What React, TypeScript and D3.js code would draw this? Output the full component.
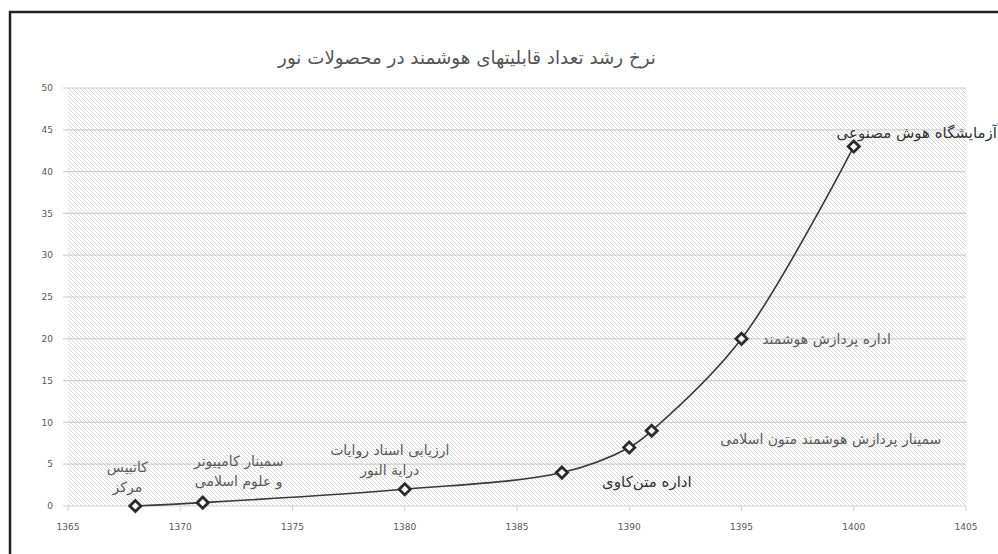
import * as d3 from 'd3'

const years = [1368, 1371, 1380, 1387, 1390, 1391, 1395, 1400]
const values = [0, 0.4, 2, 4, 7, 9, 20, 43]
const xTicks = [1365, 1370, 1375, 1380, 1385, 1390, 1395, 1400, 1405]
const yTicks = [0, 5, 10, 15, 20, 25, 30, 35, 40, 45, 50]

const TITLE = 'نرخ رشد تعداد قابلیتهای هوشمند در محصولات نور'

// label lines per point (index into years/values)
const labelLines: string[][] = [
  ['کاتبیس', 'مرکز'],
  ['سمینار کامپیوتر', 'و علوم اسلامی'],
  ['ارزیابی اسناد روایات', 'درایة النور'],
  ['اداره متن‌کاوی'],
  [],
  ['سمینار پردازش هوشمند متون اسلامی'],
  ['اداره پردازش هوشمند'],
  ['آزمایشگاه هوش مصنوعی'],
]

// label placement, offsets from the point in pixels
const labelLayout = [
  { dx: -8, dy: -34, dark: false },
  { dx: 36, dy: -37, dark: false },
  { dx: -15, dy: -34, dark: false },
  { dx: 85, dy: 14, dark: true },
  { dx: 0, dy: 0, dark: false },
  { dx: 179, dy: 13, dark: false },
  { dx: 85, dy: 5, dark: false },
  { dx: 63, dy: -9, dark: true },
]

const W = 998
const H = 554
const margin = { top: 88, right: 32, bottom: 48, left: 68 }
const FONT = '"DejaVu Sans", sans-serif'

export default function App() {
  const innerW = W - margin.left - margin.right
  const innerH = H - margin.top - margin.bottom

  const x = d3.scaleLinear().domain([1365, 1405]).range([0, innerW])
  const y = d3.scaleLinear().domain([0, 50]).range([innerH, 0])

  const pts: [number, number][] = years.map((yr, i) => [x(yr), y(values[i])])
  const line = d3.line().curve(d3.curveCatmullRom.alpha(0.5))(pts) ?? ''
  const diamond = d3.symbol(d3.symbolDiamond2, 80)() ?? ''

  return (
    <svg
      width={W}
      height={H}
      style={{ position: 'fixed', left: 0, top: 0, background: '#fff' }}
    >
      <defs>
        <pattern id="hatch" patternUnits="userSpaceOnUse" width={4} height={4}>
          <rect width={4} height={4} fill="#fff" />
          <path d="M-1,-1 L5,5 M-1,3 L1,5 M3,-1 L5,1" stroke="#d4d4d4" strokeWidth={0.9} />
        </pattern>
      </defs>

      {/* frame */}
      <rect x={10} y={12} width={1000} height={560} fill="none" stroke="#222" strokeWidth={2.5} />

      <text
        x={467}
        y={64}
        textAnchor="middle"
        fontFamily={FONT}
        fontSize={18.3}
        fill="#555"
      >
        {TITLE}
      </text>

      <g transform={`translate(${margin.left},${margin.top})`}>
        <rect width={innerW} height={innerH} fill="url(#hatch)" />

        {yTicks.map(t => (
          <g key={t}>
            <line x1={-5} x2={innerW} y1={y(t)} y2={y(t)} stroke="#d0d0d0" strokeWidth={1.2} />
            <text
              x={-15}
              y={y(t)}
              dy="0.35em"
              textAnchor="end"
              fontFamily={FONT}
              fontSize={9}
              fill="#595959"
            >
              {t}
            </text>
          </g>
        ))}

        {xTicks.map(t => (
          <g key={t}>
            <line x1={x(t)} x2={x(t)} y1={innerH} y2={innerH + 5} stroke="#d0d0d0" />
            <text
              x={x(t)}
              y={innerH + 24}
              textAnchor="middle"
              fontFamily={FONT}
              fontSize={9}
              fill="#595959"
            >
              {t}
            </text>
          </g>
        ))}

        <path d={line} fill="none" stroke="#3a3a3a" strokeWidth={1.6} />

        {pts.map(([px, py], i) => (
          <path
            key={i}
            d={diamond}
            transform={`translate(${px},${py})`}
            fill="#fff"
            stroke="#2b2b2b"
            strokeWidth={2.8}
          />
        ))}

        {labelLines.map((lines, i) => {
          const L = labelLayout[i]
          const [px, py] = pts[i]
          return lines.map((s, j) => (
            <text
              key={`${i}-${j}`}
              x={px + L.dx}
              y={py + L.dy + j * 20}
              textAnchor="middle"
              fontFamily={FONT}
              fontSize={L.dark ? 15 : 14}
              fill={L.dark ? '#333' : '#5a5a5a'}
            >
              {s}
            </text>
          ))
        })}
      </g>
    </svg>
  )
}
